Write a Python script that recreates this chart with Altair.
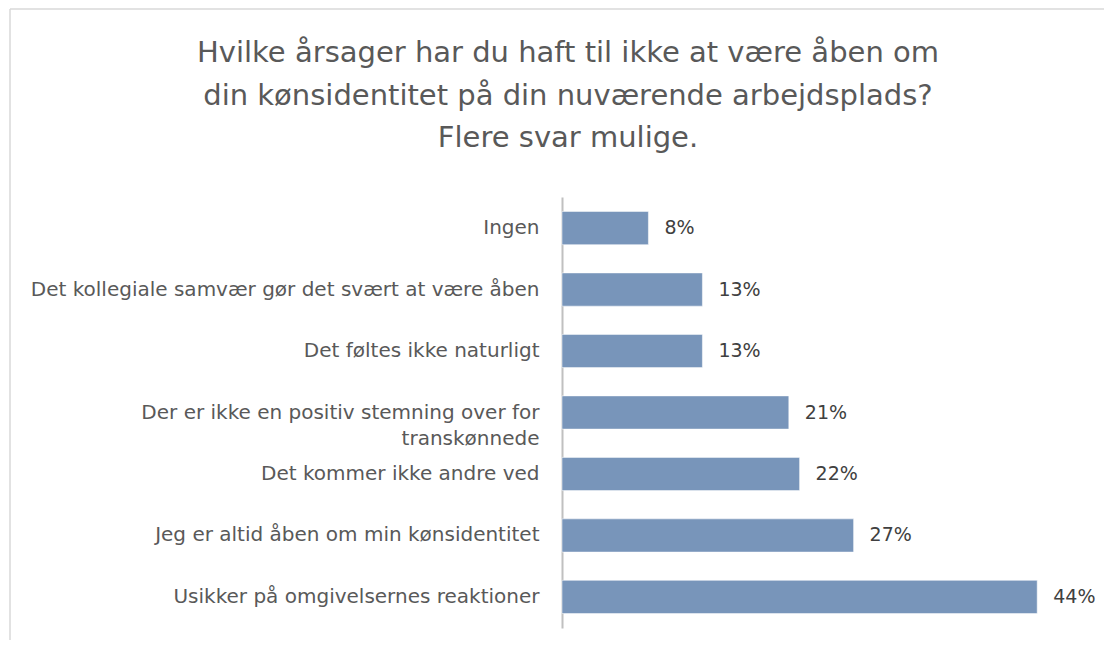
import altair as alt
import pandas as pd

categories = [
    "Ingen",
    "Det kollegiale samvær gør det svært at være åben",
    "Det føltes ikke naturligt",
    "Der er ikke en positiv stemning over for|transkønnede",
    "Det kommer ikke andre ved",
    "Jeg er altid åben om min kønsidentitet",
    "Usikker på omgivelsernes reaktioner",
]
values = [0.08, 0.13, 0.13, 0.21, 0.22, 0.27, 0.44]
title_lines = [
    "Hvilke årsager har du haft til ikke at være åben om",
    "din kønsidentitet på din nuværende arbejdsplads?",
    "Flere svar mulige.",
]

df = pd.DataFrame({"kategori": categories, "andel": values})
FONT = "DejaVu Sans"
W, H = 540, 431
PL, PT = 554, 189

base = alt.Chart(df)

bars = base.mark_bar(color="#7895BA", stroke="#ffffff", strokeWidth=0.5).encode(
    y=alt.Y(
        "kategori:N",
        sort=None,
        title=None,
        scale=alt.Scale(paddingInner=0.46, paddingOuter=0.235),
        axis=alt.Axis(
            labelExpr="split(datum.label, '|')",
            labelFont=FONT,
            labelFontSize=20,
            labelColor="#595959",
            labelLimit=600,
            labelPadding=23,
            labelLineHeight=26,
            ticks=False,
            domainColor="#c0c0c0",
            domainWidth=2,
        ),
    ),
    x=alt.X("andel:Q", scale=alt.Scale(domain=[0, 0.5], nice=False), axis=None),
)

labels = base.mark_text(
    align="left", baseline="middle", dx=16, font=FONT, fontSize=19, color="#404040"
).encode(
    y=alt.Y("kategori:N", sort=None),
    x=alt.X("andel:Q"),
    text=alt.Text("andel:Q", format=".0%"),
)

title_df = pd.DataFrame({"t": ["\n".join(title_lines)]})
title = alt.Chart(title_df).mark_text(
    align="center",
    baseline="alphabetic",
    font=FONT,
    fontSize=29,
    lineHeight=42.5,
    lineBreak="\n",
    color="#595959",
).encode(text="t:N", x=alt.value(6), y=alt.value(-135))

frame_top = alt.Chart(title_df).mark_rule(color="#d9d9d9", strokeWidth=1.5).encode(
    x=alt.value(-552), x2=alt.value(W + 10), y=alt.value(-188)
)
frame_left = alt.Chart(title_df).mark_rule(color="#d9d9d9", strokeWidth=1.5).encode(
    x=alt.value(-552), y=alt.value(-188), y2=alt.value(H + 20)
)

chart = (
    alt.layer(frame_top, frame_left, title, bars, labels)
    .properties(
        width=W,
        height=H,
        autosize=alt.AutoSizeParams(type="none"),
        padding={"left": PL, "top": PT, "right": 2, "bottom": 12},
    )
    .configure_view(stroke=None)
)

chart.save("out.html", embed_options={"renderer": "svg", "actions": False})
